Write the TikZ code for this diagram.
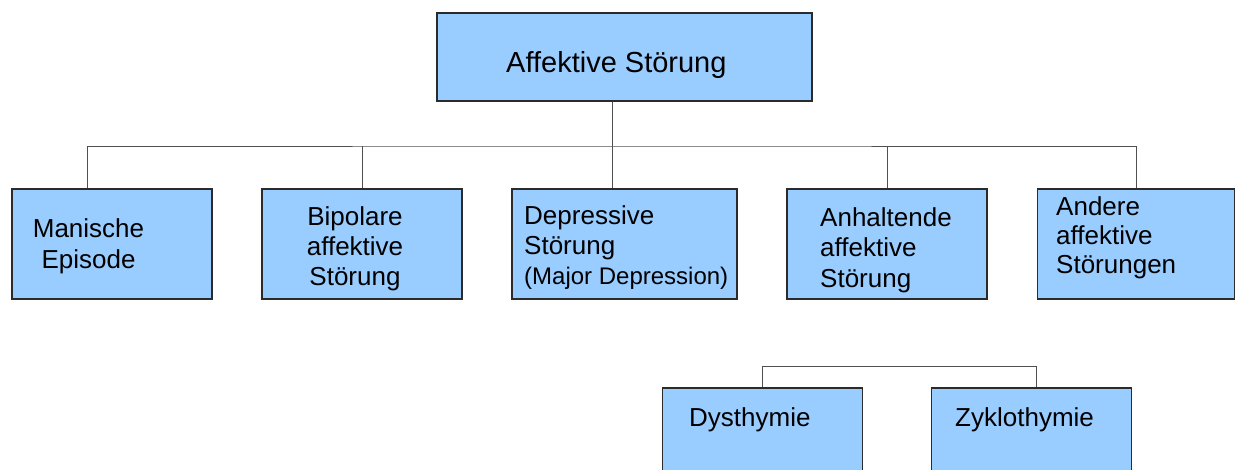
\documentclass[tikz,border=0pt]{standalone}
\usepackage{fontspec}
\setmainfont{Liberation Sans}
\usetikzlibrary{calc,positioning}
\definecolor{BoxFill}{HTML}{99CCFF}
\definecolor{BoxLine}{HTML}{2B2B2B}
\definecolor{LinkGray}{HTML}{505050}
\tikzset{
  cat/.style={draw=BoxLine, fill=BoxFill, line width=1.1pt,
              minimum width=200pt, minimum height=110pt, inner sep=0pt},
  ctext/.style={font=\fontsize{26}{#1}\selectfont, inner sep=0pt, align=left, anchor=base west},
  ctext/.default=30,
  link/.style={draw=LinkGray, line width=1pt},
}
\begin{document}
\begin{tikzpicture}[x=1pt, y=-1pt]
\useasboundingbox (0,0) rectangle (1235,469);
\clip (0,0) rectangle (1235,469);
% ---------- boxes
\node[cat, minimum width=375pt, minimum height=88pt] (root) at (624.5,57) {};
\node[cat] (man) at (112,244) {};
\node[cat] (bip) at (362,244) {};
\node[cat, minimum width=225pt] (dep) at (624.5,244) {};
\node[cat] (anh) at (887,244) {};
\node[cat, minimum width=197pt] (oth) at (1136,244) {};
\node[cat] (dys) at (762.5,443) {};
\node[cat] (zyk) at (1031.5,443) {};
% ---------- texts (anchored at the baseline of the last line)
\node[ctext, font=\fontsize{29}{32}\selectfont] (rootT) at (506,72) {Affektive Störung};
\node[ctext=31, align=center, anchor=base] (manT) at (88.5,268) {Manische\\Episode};
\node[ctext=30, align=center, anchor=base] (bipT) at (355,285) {Bipolare\\affektive\\Störung};
\node[ctext=30] (depT) at (524,284) {Depressive\\Störung\\{\fontsize{24}{28}\selectfont(Major Depression)}};
\node[ctext=30.5] (anhT) at (820,287) {Anhaltende\\affektive\\Störung};
\node[ctext=29] (othT) at (1056,273) {Andere\\affektive\\Störungen};
\node[ctext] (dysT) at (689,426) {Dysthymie};
\node[ctext] (zykT) at (955,426) {Zyklothymie};
% ---------- connectors
\coordinate (bar) at (0,146);
\coordinate (subbar) at (0,366);
\coordinate (rootfoot) at ([xshift=-12.5pt]root.south);
\coordinate (manhead) at ([xshift=-25pt]man.north);
\coordinate (zykhead) at ([xshift=5pt]zyk.north);
\draw[link] (rootfoot) -- (rootfoot |- dep.north);
\draw[link] (manhead) |- (rootfoot |- bar) -| (oth.north);
\draw[link] (bip.north) -- (bip.north |- bar);
\draw[link] (anh.north) -- (anh.north |- bar);
\draw[link] (dys.north) |- (zykhead |- subbar) -- (zykhead);
\end{tikzpicture}
\end{document}
